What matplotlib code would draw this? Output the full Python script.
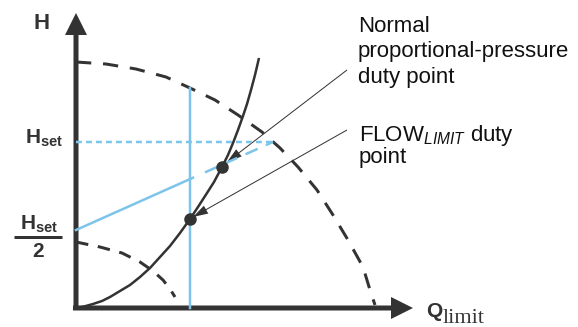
import matplotlib.pyplot as plt

# ---------------- SETTINGS ----------------
W, H = 578, 327          # output size in pixels
X0, Y0 = 76, 308         # pixel position of the axes corner
DARK = "#333333"
BLUE = "#7cc4ea"
plt.rcParams["font.family"] = ["Liberation Sans", "DejaVu Sans"]
plt.rcParams["mathtext.fontset"] = "custom"
plt.rcParams["mathtext.bf"] = "Liberation Sans:bold"
plt.rcParams["mathtext.sf"] = "Liberation Sans"
plt.rcParams["mathtext.it"] = "Liberation Sans:italic"
plt.rcParams["mathtext.rm"] = "Liberation Serif"
plt.rcParams["lines.scale_dashes"] = False
PT = 0.72                # points per pixel at dpi 100
# ------------------------------------------

# Data in pixel-sized units (Q right, H up)
pump_max_q = [0, 30, 60, 90, 114, 139, 162, 186, 204, 222, 241, 257, 272, 287, 294, 299]
pump_max_h = [246, 244, 239, 231, 220, 208, 193, 176, 160, 141, 118, 93, 68, 41, 18, 3]

pump_min_q = [0, 24, 46, 64, 77, 87, 94, 99]
pump_min_h = [66, 61, 55, 46, 37, 28, 19, 11]

system_q = [0, 8, 17, 26, 34, 44, 54, 64, 74, 84, 94, 104, 114, 122, 131, 138, 146,
            152, 157, 162, 167, 171, 175, 179, 183]
system_h = [0, 1.5, 4, 7, 11, 17, 23, 31, 40, 51, 62, 75, 89, 101, 115, 126, 141,
            153, 165, 178, 192, 204, 218, 233, 250]

h_set = 166
h_half = 78
q_max = 197              # where the proportional line reaches H_set
q_limit = 114            # FLOW_LIMIT flow
q_limit_h = 220          # top of the Q_limit line (on max curve)

normal_point = (146, 141)
limit_point = (114, 89)

normal_label = ["Normal", "proportional-pressure", "duty point"]

fig = plt.figure(figsize=(W / 100, H / 100), dpi=100)
ax = fig.add_axes([0, 0, 1, 1])
ax.set_xlim(-X0, W - X0)
ax.set_ylim(-(H - Y0), Y0)
ax.axis("off")

# pump curves
ax.plot(pump_max_q, pump_max_h, color=DARK, lw=3 * PT, dashes=(11, 8.5),
        dash_capstyle="butt")
ax.plot(pump_min_q, pump_min_h, color=DARK, lw=3 * PT, dashes=(9, 7),
        dash_capstyle="butt")

# proportional-pressure line (solid up to Q_limit, dashed beyond)
slope = (h_set - h_half) / q_max
q_split = q_limit + 3
ax.plot([0, q_split], [h_half, h_half + slope * q_split], color=BLUE, lw=2.5 * PT)
ax.plot([q_split + 12, q_max], [h_half + slope * (q_split + 12), h_set], color=BLUE,
        lw=2.5 * PT, dashes=(9.5, 6.5))
ax.plot([0, q_max], [h_set, h_set], color=BLUE, lw=2.5 * PT, dashes=(4.2, 3))
ax.plot([q_limit, q_limit], [0, q_limit_h], color=BLUE, lw=2.5 * PT)

# system curve
ax.plot(system_q, system_h, color=DARK, lw=2.5 * PT, solid_capstyle="butt")

# axes arrows
ax.arrow(-3, 0, 340, 0, width=5, head_width=22, head_length=22,
         length_includes_head=True, color=DARK, lw=0)
ax.arrow(0, -2, 0, 297, width=5, head_width=22, head_length=22,
         length_includes_head=True, color=DARK, lw=0)

# duty points
ax.plot(*zip(normal_point, limit_point), "o", color=DARK, ms=8, zorder=5)

# pointer arrows
ax.arrow(271, 238, normal_point[0] + 5 - 271, normal_point[1] + 5 - 238, width=1.0,
         head_width=9, head_length=15, length_includes_head=True, color=DARK, lw=0)
ax.arrow(271, 178, limit_point[0] + 3 - 271, limit_point[1] + 2 - 178, width=1.0,
         head_width=9, head_length=15, length_includes_head=True, color=DARK, lw=0)

# labels
ax.text(-34, 279, "H", ha="center", va="baseline", fontsize=16, fontweight="bold", color=DARK)
ax.text(-13, 164, r"$\mathbf{H}_{\mathbf{set}}$", ha="right", va="baseline", fontsize=15, color=DARK)
ax.text(-37, 78, r"$\mathbf{H}_{\mathbf{set}}$", ha="center", va="baseline", fontsize=15, color=DARK)
ax.plot([-62, -14], [71, 71], color=DARK, lw=3 * PT, solid_capstyle="butt")
ax.text(-38, 51, "2", ha="center", va="baseline", fontsize=15, fontweight="bold", color=DARK)
ax.text(350, -9, "Q", ha="left", va="baseline", fontsize=15, fontweight="bold", color=DARK)
ax.text(367, -15, "limit", ha="left", va="baseline", fontsize=16,
        family="Liberation Serif", color=DARK)

for i, line in enumerate(normal_label):
    ax.text(282, 276 - 25.5 * i, line, ha="left", va="baseline", fontsize=16, color="#111111")
ax.text(283, 167, r"$\mathsf{FLOW}_{\mathit{LIMIT}}\mathsf{\ duty}$", ha="left",
        va="baseline", fontsize=16, color="#111111")
ax.text(283, 145, "point", ha="left", va="baseline", fontsize=16, color="#111111")

fig.savefig("out.png", dpi=100)
